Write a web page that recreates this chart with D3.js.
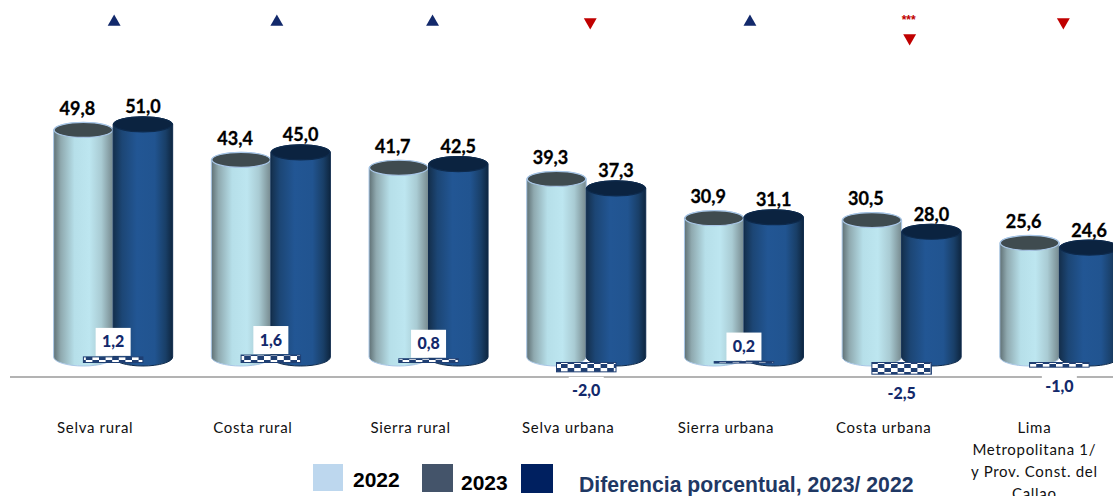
<!DOCTYPE html>
<html><head><meta charset="utf-8">
<script src="https://cdn.jsdelivr.net/npm/d3@7"></script>
<style>html,body{margin:0;padding:0;background:#fff;overflow:hidden}svg{display:block}</style>
</head><body><div id="c"></div>
<script>
const categories=["Selva rural","Costa rural","Sierra rural","Selva urbana","Sierra urbana","Costa urbana","Lima Metropolitana"];
const categoryLines=[["Selva rural"],["Costa rural"],["Sierra rural"],["Selva urbana"],["Sierra urbana"],["Costa urbana"],["Lima","Metropolitana 1/","y Prov. Const. del","Callao"]];
const years=["2022","2023"];
const values2022=[49.8,43.4,41.7,39.3,30.9,30.5,25.6];
const values2023=[51.0,45.0,42.5,37.3,31.1,28.0,24.6];
const differences=[1.2,1.6,0.8,-2.0,0.2,-2.5,-1.0];
const significance=["","","","","","***",""];
const fmt=v=>v.toFixed(1).replace(".",",");

const W=1113,H=496;
const svg=d3.select("#c").append("svg").attr("width",W).attr("height",H).attr("viewBox",[0,0,W,H]);
const defs=svg.append("defs");
function grad(id,stops){const g=defs.append("linearGradient").attr("id",id);
  stops.forEach(s=>g.append("stop").attr("offset",s[0]).attr("stop-color",s[1]));}
grad("gLight",[[0,"#5f7074"],[.12,"#8fa9af"],[.35,"#b6dfe9"],[.6,"#bde6f0"],[.8,"#a9cbd3"],[1,"#76898e"]]);
grad("gDark",[[0,"#142f4c"],[.15,"#1c4675"],[.4,"#225694"],[.7,"#215490"],[.88,"#193f68"],[1,"#0e2640"]]);
const pat=defs.append("pattern").attr("id","chk").attr("patternUnits","userSpaceOnUse").attr("width",13.2).attr("height",8);
pat.append("rect").attr("width",13.2).attr("height",8).attr("fill","#fff");
pat.append("rect").attr("width",6.6).attr("height",4).attr("fill","#1f3f73");
pat.append("rect").attr("x",6.6).attr("y",4).attr("width",6.6).attr("height",4).attr("fill","#1f3f73");

const x=d3.scaleBand().domain(categories).range([34.3,34.3+7*157.7]);
const sub=d3.scaleBand().domain(years).range([0,x.bandwidth()]).paddingInner(0).paddingOuter(.325);
const y=d3.scaleLinear().domain([0,60]).range([362.5,82.3]);
const rx=sub.bandwidth()/2, ryTop=7.5, ryBot=9, floorY=357;

svg.append("line").attr("x1",10).attr("x2",W).attr("y1",377).attr("y2",377).attr("stroke","#b3b3b3").attr("stroke-width",2);

const series=[{k:"2022",v:values2022,f:"url(#gLight)",top:"#3f4b4f",edge:"#a8c6e6",lx:-6,ly:-21},
              {k:"2023",v:values2023,f:"url(#gDark)",top:"#0b2340",edge:"#0e2a4c",lx:0,ly:-17}];
const cyl=d=>{const t=y(d.v),l=-rx,r=rx;
  return `M${l},${t}L${l},${floorY}A${rx},${ryBot} 0 0 0 ${r},${floorY}L${r},${t}A${rx},${ryTop} 0 0 0 ${l},${t}Z`;};
categories.forEach((c,i)=>{
  series.forEach(s=>{
    const cx=x(c)+sub(s.k)+rx, g=svg.append("g").attr("transform",`translate(${cx},0)`);
    g.append("path").datum({v:s.v[i]}).attr("d",cyl).attr("fill",s.f).attr("stroke",s.edge).attr("stroke-width",1);
    g.append("ellipse").attr("cy",y(s.v[i])).attr("rx",rx-.5).attr("ry",ryTop).attr("fill",s.top).attr("stroke",s.edge).attr("stroke-width",1.2);
  });
});
categories.forEach((c,i)=>series.forEach(s=>{
  svg.append("text").attr("x",x(c)+sub(s.k)+rx+s.lx).attr("y",y(s.v[i])+s.ly+6)
    .attr("text-anchor","middle").attr("font-family","Lato").attr("font-weight",700).attr("font-size",18)
    .attr("stroke","#000").attr("stroke-width",.3).attr("fill","#000").text(fmt(s.v[i]));
}));
const mid=c=>x(c)+x.bandwidth()/2;
categories.forEach((c,i)=>{
  const d=differences[i], bw=rx*2;
  const y0=Math.min(y(d),y(0)), h=Math.max(Math.abs(y(d)-y(0)),1.5);
  const ly=d>0? y(d)-15:y(d)+19;
  svg.append("rect").attr("x",mid(c)-bw/2).attr("y",y0).attr("width",bw).attr("height",h)
    .attr("fill","url(#chk)").attr("stroke","#1f3f73").attr("stroke-width",1);
  const tw=35;
  svg.append("rect").attr("x",mid(c)-tw/2).attr("y",ly-14).attr("width",tw).attr("height",28).attr("fill","#fff");
  svg.append("text").attr("x",mid(c)).attr("y",ly+5.5).attr("text-anchor","middle")
    .attr("font-family","Lato").attr("font-weight",900).attr("font-size",16).attr("fill","#13296b").text(fmt(d));
});
const tri=d3.symbol().type(d3.symbolTriangle).size(72);
const nudge=[1,6,4,4,6,8,4];
categories.forEach((c,i)=>{
  const up=differences[i]>0, cx=mid(c)+nudge[i], sig=significance[i];
  const cy=sig?38:22;
  svg.append("path").attr("d",tri).attr("transform",`translate(${cx},${cy}) rotate(${up?0:180})`).attr("fill",up?"#12296b":"#c00000");
  if(sig) svg.append("text").attr("x",cx-1).attr("y",24).attr("text-anchor","middle").attr("font-family","Liberation Sans").attr("font-weight",700).attr("font-size",12).attr("fill","#c00000").text(sig);
});
categories.forEach((c,i)=>{
  const t=svg.append("text").attr("text-anchor","middle").attr("font-family","Lato").attr("font-size",15).attr("letter-spacing",.7).attr("fill","#111");
  categoryLines[i].forEach((l,j)=>t.append("tspan").attr("x",mid(c)-(i===6?25:18)).attr("y",433+j*22).text(l));
});
[[313,464,30,27,"#bdd7ee"],[422,464,31,28,"#44546a"],[521,464,32,29,"#002060"]].forEach(r=>
  svg.append("rect").attr("x",r[0]).attr("y",r[1]).attr("width",r[2]).attr("height",r[3]).attr("fill",r[4]));
const lf=(tx,ty,s,sz,col)=>svg.append("text").attr("x",tx).attr("y",ty).attr("font-family","Liberation Sans").attr("font-weight",700).attr("font-size",sz).attr("fill",col).text(s);
lf(353,487,years[0],21,"#000");lf(461,490,years[1],21,"#000");
lf(579,492,"Diferencia porcentual, 2023/ 2022",21.2,"#1f3864");
</script></body></html>
